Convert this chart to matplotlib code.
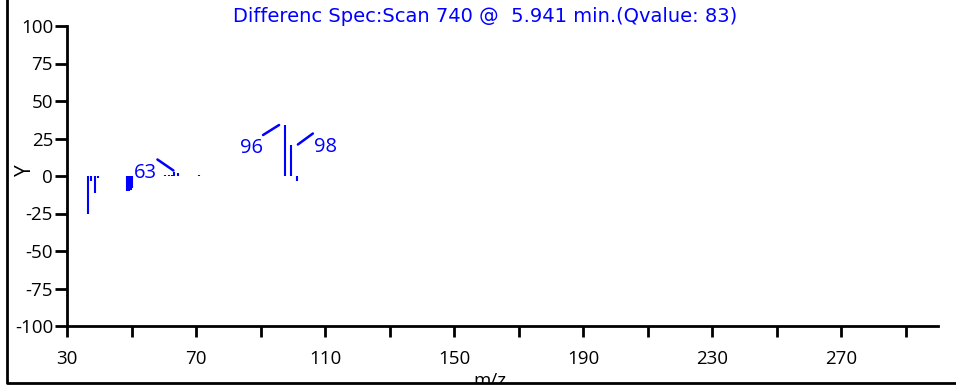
import matplotlib
matplotlib.use('Agg')
from matplotlib import pyplot as plt
from matplotlib.lines import Line2D
from matplotlib.patches import Rectangle
from matplotlib.transforms import offset_copy

# difference spectrum, scan 740
mz = [36.6, 37.5, 38.6, 39.5, 48.5, 49.1, 49.7, 50.3,
      60.5, 61.5, 62.5, 63.3, 64.5, 71.0, 97.6, 99.4, 101.3]
abund = [-25, -3, -11, -1, -10, -10, -9, -8,
         1, 1, 1, 3, 2, 0.7, 34, 21, -3]

# labelled peaks: text, mz, abundance
lab_text = ['63', '96', '98']
lab_mz = [63.3, 97.6, 99.4]
lab_ab = [3, 34, 21]
# leader start / end and text anchor, in pixels from the peak top
lead_a = [(-1, 1), (-6, 0), (7, 0)]
lead_b = [(-17, 12), (-22, -10), (22, 11)]
txt_pos = [(-17, -1), (-22, -23), (23, -2)]
txt_ha = ['right', 'right', 'left']

x_ticks = list(range(30, 300, 20))
x_ticklabels = [str(t) if (t - 30) % 40 == 0 else '' for t in x_ticks]
y_ticks = [-100, -75, -50, -25, 0, 25, 50, 75, 100]

plt.rcParams['axes.unicode_minus'] = False
plt.rcParams['font.family'] = ['Open Sans', 'DejaVu Sans']

fig = plt.figure(dpi=100, figsize=(9.56, 3.88))
ax = fig.add_axes([67/956, 62/388, 871/956, 300/388])

ax.vlines(mz, 0, abund, colors='#0000ff', lw=1.5)

for i in range(len(lab_text)):
    a, b = lead_a[i], lead_b[i]
    start = offset_copy(ax.transData, fig=fig, x=a[0], y=a[1], units='dots')
    ax.annotate('', xy=(lab_mz[i], lab_ab[i]), xycoords=start,
                xytext=(b[0] - a[0], b[1] - a[1]), textcoords='offset pixels',
                arrowprops=dict(arrowstyle='-', color='#0000ff', lw=1.8,
                                shrinkA=0, shrinkB=0))
    ax.annotate(lab_text[i], xy=(lab_mz[i], lab_ab[i]), xytext=txt_pos[i],
                textcoords='offset pixels', ha=txt_ha[i], va='center',
                color='#0000ff', fontsize=14.5)

ax.set_xlim(30, 300)
ax.set_ylim(-100, 100)
ax.set_xticks(x_ticks)
ax.set_xticklabels(x_ticklabels)
ax.set_yticks(y_ticks)
ax.tick_params(axis='x', length=8, width=2, pad=9, labelsize=13.5)
ax.tick_params(axis='y', length=9, width=2, pad=1, labelsize=13.5)
for s in ['top', 'right']:
    ax.spines[s].set_visible(False)
for s in ['left', 'bottom']:
    ax.spines[s].set_linewidth(2)

fig.text(485/956, 1 - 16/388, 'Differenc Spec:Scan 740 @  5.941 min.(Qvalue: 83)',
         ha='center', va='center', color='#0000ff', fontsize=14,
         family='DejaVu Sans')
fig.text(25/956, 1 - 170/388, 'Y', rotation=90, ha='center', va='center',
         fontsize=15)
fig.text(490/956, 1 - 372/388, 'm/z', ha='center', va='top', fontsize=13.5)

# outer frame, left and bottom only; hides the bottom of the x label
fig.patches.append(Rectangle((0, 0), 1, 5/388, transform=fig.transFigure,
                             facecolor='white', edgecolor='none', zorder=10))
fig.lines.append(Line2D([7/956, 7/956, 1], [1, 5/388, 5/388],
                        transform=fig.transFigure, color='black', lw=2, zorder=11))

plt.savefig('out.png')
